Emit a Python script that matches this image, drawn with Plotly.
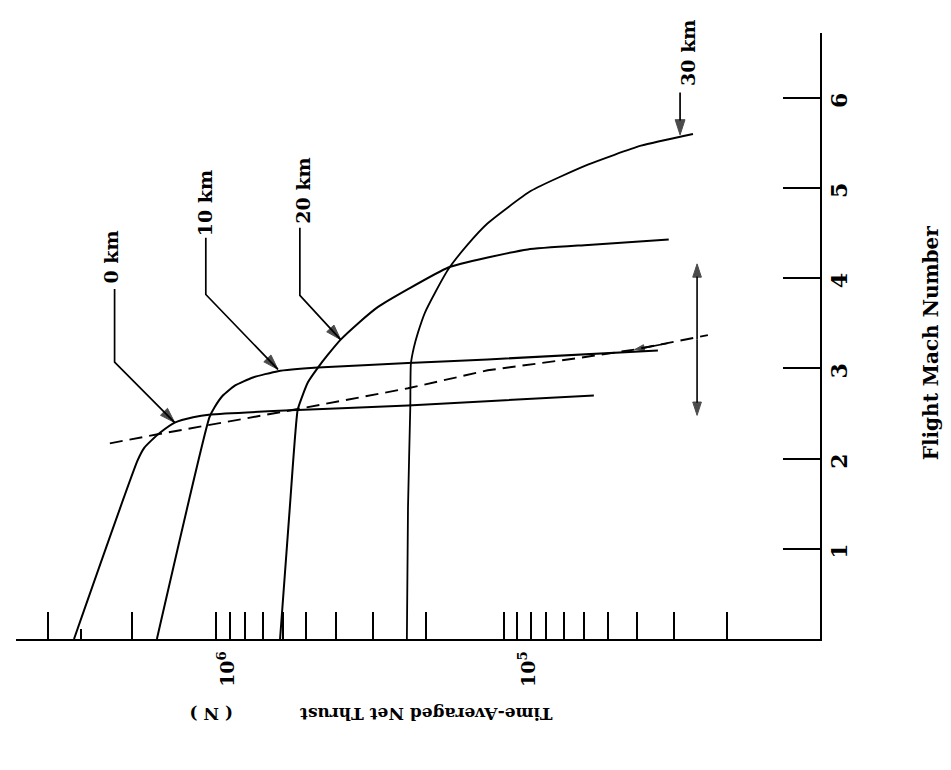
import numpy as np
import plotly.graph_objects as go

# ---------------- data (thrust in N, flight Mach number) ----------------
mach_0km = [0.0, 1.98, 2.12, 2.20, 2.29, 2.40, 2.46, 2.49, 2.54, 2.59, 2.70]
thrust_0km = [2.96e6, 1.82e6, 1.73e6, 1.64e6, 1.53e6, 1.37e6, 1.19e6, 1.04e6, 5.35e5, 2.30e5, 5.55e4]

mach_10km = [0.0, 2.46, 2.57, 2.70, 2.81, 2.90, 2.97, 3.01, 3.06, 3.10, 3.20]
thrust_10km = [1.57e6, 1.05e6, 1.01e6, 9.48e5, 8.65e5, 7.53e5, 6.22e5, 4.58e5, 2.30e5, 1.25e5, 3.40e4]

mach_20km = [0.0, 1.46, 2.54, 2.68, 2.85, 3.01, 3.15, 3.32, 3.50, 3.68, 3.88, 4.12, 4.23, 4.32, 4.37, 4.43]
thrust_20km = [6.12e5, 5.68e5, 5.35e5, 5.18e5, 4.94e5, 4.58e5, 4.25e5, 3.85e5, 3.37e5, 2.90e5,
               2.30e5, 1.69e5, 1.25e5, 9.2e4, 5.8e4, 3.13e4]

mach_30km = [0.0, 1.46, 2.57, 3.05, 3.23, 3.40, 3.62, 3.84, 4.10, 4.37, 4.61, 4.97, 5.26, 5.47, 5.60]
thrust_30km = [2.32e5, 2.30e5, 2.26e5, 2.25e5, 2.20e5, 2.13e5, 2.02e5, 1.87e5, 1.69e5, 1.46e5,
               1.25e5, 8.97e4, 5.81e4, 3.87e4, 2.60e4]

mach_dashed = [2.17, 2.27, 2.55, 2.78, 2.98, 3.12, 3.21, 3.37]
thrust_dashed = [2.25e6, 1.56e6, 5.35e5, 2.30e5, 1.25e5, 6.12e4, 4.06e4, 2.32e4]

# altitude labels and their leaders
label_text = ["0 km", "10 km", "20 km", "30 km"]
label_thrust = [2.23e6, 1.08e6, 5.14e5, 2.70e4]
label_mach = [4.23, 4.83, 4.97, 6.50]
leader_top_thrust = [2.17e6, 1.08e6, 5.26e5, 2.87e4]
leader_top_mach = [3.88, 4.45, 4.56, 6.06]
leader_elbow_mach = [3.07, 3.82, 3.81, 6.00]
leader_tip_thrust = [1.37e6, 6.22e5, 3.85e5, 2.87e4]
leader_tip_mach = [2.40, 2.99, 3.32, 5.59]

# double-headed range arrow
range_arrow_thrust = 2.52e4
range_arrow_mach = [2.48, 4.16]
# small arrow on dashed line
dash_arrow_thrust = [3.15e4, 4.06e4]
dash_arrow_mach = [3.28, 3.21]

# axes
thrust_ticks = [3.6e6, 1.9e6, 1e6, 9e5, 8e5, 7e5, 6e5, 5e5, 4e5, 3e5, 2e5,
                1.1e5, 1e5, 9e4, 8e4, 7e4, 6e4, 5e4, 4e4, 3e4, 2e4]
thrust_minor_ticks = [2.8e6]
thrust_label_vals = [1e6, 1e5]
thrust_label_text = ["10<sup>6</sup>", "10<sup>5</sup>"]
mach_ticks = [1, 2, 3, 4, 5, 6]
mach_tick_text = ["1", "2", "3", "4", "5", "6"]
thrust_range_log = [6.664, 3.993]
mach_range = [0.0, 6.72]

FONT = "DejaVu Serif"
INK = "#000000"

fig = go.Figure()

def curve(x, y, width=2.0, dash="solid"):
    fig.add_trace(go.Scatter(x=x, y=y, mode="lines", hoverinfo="skip", showlegend=False,
                             line=dict(color=INK, width=width, dash=dash, shape="spline", smoothing=0.5)))

def arrow_path(xs, ys, head=13, width=1.6):
    n = len(xs)
    fig.add_trace(go.Scatter(
        x=xs, y=ys, mode="lines+markers", hoverinfo="skip", showlegend=False,
        line=dict(color=INK, width=width),
        marker=dict(symbol=["circle"] * (n - 1) + ["arrow"], size=[0] * (n - 1) + [head],
                    angleref="previous", color=INK, line=dict(width=1, color=INK))))

curve(thrust_0km, mach_0km)
curve(thrust_10km, mach_10km)
curve(thrust_20km, mach_20km)
curve(thrust_30km, mach_30km, width=1.8)
fig.add_trace(go.Scatter(x=thrust_dashed, y=mach_dashed, mode="lines", hoverinfo="skip", showlegend=False,
                         line=dict(color=INK, width=1.9, dash="13px,7px")))

annotations = []
for i, txt in enumerate(label_text):
    arrow_path([leader_top_thrust[i], leader_top_thrust[i], leader_tip_thrust[i]],
               [leader_top_mach[i], leader_elbow_mach[i], leader_tip_mach[i]], head=16, width=1.7)
    annotations.append(dict(x=np.log10(label_thrust[i]), y=label_mach[i], xref="x", yref="y",
                            text="<b>" + txt + "</b>", textangle=-90, showarrow=False,
                            font=dict(family=FONT, size=19, color=INK)))

# range double arrow
mid = sum(range_arrow_mach) / 2
for m in range_arrow_mach:
    arrow_path([range_arrow_thrust, range_arrow_thrust], [mid, m], head=14, width=1.6)
# small arrow on dashed line
arrow_path(dash_arrow_thrust, dash_arrow_mach, head=10, width=1.6)

# thrust tick labels
for v, t in zip(thrust_label_vals, thrust_label_text):
    annotations.append(dict(x=np.log10(v), y=0, xref="x", yref="paper", yshift=-50, xshift=10,
                            text="<b>" + t + "</b>", textangle=-90, showarrow=False,
                            font=dict(family=FONT, size=19, color=INK)))
# mach tick labels
for v, t in zip(mach_ticks, mach_tick_text):
    annotations.append(dict(x=1, y=v, xref="paper", yref="y", xshift=34, yshift=-3,
                            text="<b>" + t + "</b>", textangle=-90, showarrow=False,
                            font=dict(family=FONT, size=22, color=INK)))
# axis titles
annotations.append(dict(x=1, y=0.488, xref="paper", yref="paper", xshift=125,
                        text="<b>Flight Mach Number</b>", textangle=-90, showarrow=False,
                        font=dict(family=FONT, size=20, color=INK)))
annotations.append(dict(x=np.log10(2.0e5), y=0, xref="x", yref="paper", yshift=-87,
                        text="<b>Time-Averaged Net Thrust</b>", textangle=180, showarrow=False,
                        font=dict(family=FONT, size=17, color=INK)))
annotations.append(dict(x=np.log10(1.03e6), y=0, xref="x", yref="paper", yshift=-87,
                        text="<b>( N )</b>", textangle=180, showarrow=False,
                        font=dict(family=FONT, size=17, color=INK)))

fig.update_layout(
    width=951, height=770,
    margin=dict(l=8, r=139, t=25, b=139),
    paper_bgcolor="white", plot_bgcolor="white",
    showlegend=False,
    annotations=annotations,
    xaxis=dict(type="log", range=thrust_range_log, showgrid=False, zeroline=False,
               showline=True, linecolor=INK, linewidth=2,
               tickmode="array", tickvals=thrust_ticks, ticks="inside", ticklen=27,
               tickwidth=1.6, tickcolor=INK, showticklabels=False,
               minor=dict(tickmode="array", tickvals=thrust_minor_ticks, ticks="inside",
                          ticklen=10, tickwidth=1.6, tickcolor=INK, showgrid=False)),
    yaxis=dict(range=mach_range, side="right", showgrid=False, zeroline=False,
               showline=True, linecolor=INK, linewidth=2,
               tickmode="array", tickvals=mach_ticks, ticks="inside", ticklen=37,
               tickwidth=1.6, tickcolor=INK, showticklabels=False),
)

fig.write_html("out.html")
